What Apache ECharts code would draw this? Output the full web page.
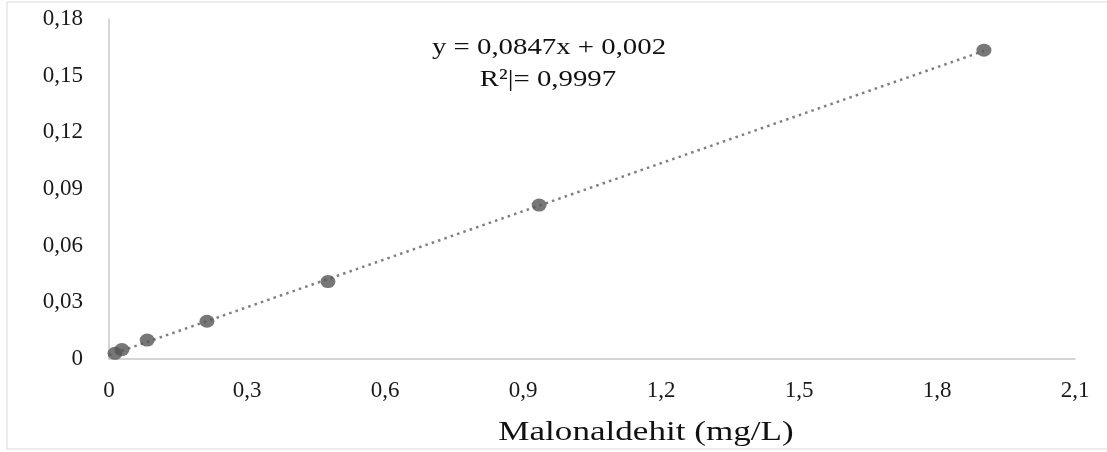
<!DOCTYPE html>
<html>
<head>
<meta charset="utf-8">
<script src="https://cdn.jsdelivr.net/npm/echarts@6/dist/echarts.min.js"></script>
<style>
html,body{margin:0;padding:0;background:#fff;}
#chart{width:1107px;height:452px;}
</style>
</head>
<body>
<div id="chart"></div>
<script>
// Data
const concentrations = [0.013, 0.028, 0.083, 0.213, 0.476, 0.935, 1.902]; // Malonaldehit (mg/L)
const absorbances    = [0.003, 0.005, 0.010, 0.020, 0.041, 0.0815, 0.1635];
const slope = 0.0847;
const intercept = 0.002;
const equationText = 'y = 0,0847x + 0,002';
const r2Text = 'R²|= 0,9997';
const xTitle = 'Malonaldehit (mg/L)';
const trendStart = 0;
const trendEnd = 1.902;

const points = concentrations.map((x, i) => [x, absorbances[i]]);
const trend = [trendStart, trendEnd].map(x => [x, slope * x + intercept]);
const fmt = v => String(Math.round(v * 100) / 100).replace('.', ',');

const chart = echarts.init(document.getElementById('chart'));
chart.setOption({
  animation: false,
  backgroundColor: '#fff',
  grid: {left: 109, right: 32, top: 19, bottom: 93},
  graphic: [{
    type: 'rect', x: 7, y: 2, z: -1,
    shape: {width: 1110, height: 447},
    style: {fill: 'none', stroke: '#d9d9d9', lineWidth: 1}
  }, {
    type: 'text', x: 549, y: 48, scaleX: 1.2,
    style: {x: 0, y: 0, text: equationText, font: '24px "Liberation Serif"', fill: '#111', textAlign: 'center', textVerticalAlign: 'middle'}
  }, {
    type: 'text', x: 548, y: 80, scaleX: 1.2,
    style: {x: 0, y: 0, text: r2Text, font: '24px "Liberation Serif"', fill: '#111', textAlign: 'center', textVerticalAlign: 'middle'}
  }, {
    type: 'text', x: 646, y: 433, scaleX: 1.3,
    style: {x: 0, y: 0, text: xTitle, font: '27px "Liberation Serif"', fill: '#111', textAlign: 'center', textVerticalAlign: 'middle'}
  }],
  xAxis: {
    type: 'value', min: 0, max: 2.1, interval: 0.3,
    axisLine: {show: true, lineStyle: {color: '#c8c8c8', width: 1.5}},
    axisTick: {show: false},
    splitLine: {show: false},
    axisLabel: {margin: 20, fontFamily: 'Liberation Serif', fontSize: 23, color: '#1a1a1a', formatter: v => fmt(v)}
  },
  yAxis: {
    type: 'value', min: 0, max: 0.18, interval: 0.03,
    axisLine: {show: true, lineStyle: {color: '#c8c8c8', width: 1.5}},
    axisTick: {show: false},
    splitLine: {show: false},
    axisLabel: {margin: 26, fontFamily: 'Liberation Serif', fontSize: 23, color: '#1a1a1a', formatter: v => fmt(v)}
  },
  series: [{
    type: 'line', data: trend, symbol: 'none', z: 1,
    lineStyle: {color: '#7f7f7f', width: 2.5, type: [2.5, 4.2]}
  }, {
    type: 'scatter', data: points, symbol: 'circle', symbolSize: [15, 13], z: 2,
    itemStyle: {color: '#555555'}
  }]
});
</script>
</body>
</html>
